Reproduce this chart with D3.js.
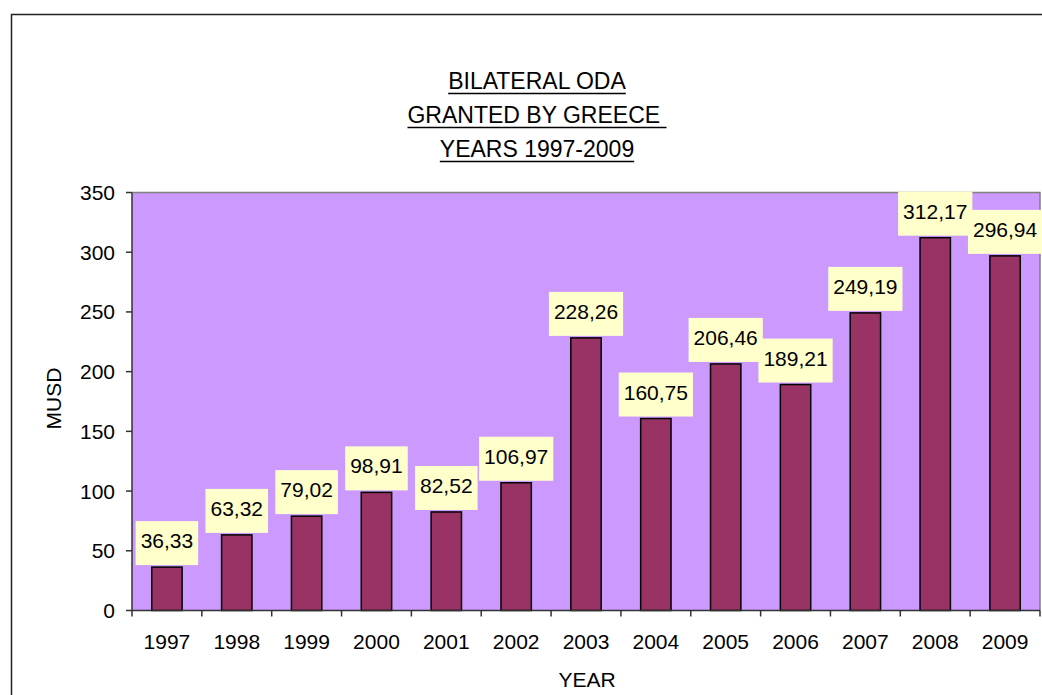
<!DOCTYPE html>
<html>
<head>
<meta charset="utf-8">
<script src="https://cdn.jsdelivr.net/npm/d3@7"></script>
<style>
  html, body { margin: 0; padding: 0; background: #fff; }
  svg { display: block; font-family: "Liberation Sans", Arial, Helvetica, sans-serif; }
</style>
</head>
<body>
<svg id="chart" width="1042" height="695"></svg>
<script>
// data
var years  = ["1997", "1998", "1999", "2000", "2001", "2002", "2003", "2004", "2005", "2006", "2007", "2008", "2009"];
var oda    = [36.33, 63.32, 79.02, 98.91, 82.52, 106.97, 228.26, 160.75, 206.46, 189.21, 249.19, 312.17, 296.94];
var yTicks = [0, 50, 100, 150, 200, 250, 300, 350];
var titleLines = ["BILATERAL ODA", "GRANTED BY GREECE ", "YEARS 1997-2009"];

var svg = d3.select("#chart");

// plot area ("top" is taken by window.top, so prefix them)
var plotLeft = 132, plotRight = 1040, plotTop = 192.5, plotBottom = 610.5;

var x = d3.scaleBand()
  .domain(years)
  .range([plotLeft, plotRight])
  .paddingInner(1.3 / 2.3)
  .paddingOuter(1.3 / 4.6);

var cat = d3.scaleLinear().domain([0, years.length]).range([plotLeft, plotRight]);

var y = d3.scaleLinear().domain([0, 350]).range([plotBottom, plotTop]);

var fmt = d3.formatLocale({ decimal: ",", thousands: ".", grouping: [3], currency: ["", ""] }).format(".2f");

// outer frame
svg.append("path")
  .attr("d", "M11.5,700 L11.5,14.5 L1050,14.5")
  .attr("fill", "none")
  .attr("stroke", "#222")
  .attr("stroke-width", 1.5);

// title
var title = svg.append("g");
titleLines.forEach(function (t, i) {
  var base = 88.5 + i * 34;
  var txt = title.append("text")
    .attr("x", 537)
    .attr("y", base)
    .attr("text-anchor", "middle")
    .attr("font-size", 23)
    .attr("fill", "#000")
    .style("white-space", "pre")
    .text(t);
  var w = txt.node().getComputedTextLength();
  title.append("line")
    .attr("x1", 537 - w / 2).attr("x2", 537 + w / 2)
    .attr("y1", base + 5).attr("y2", base + 5)
    .attr("stroke", "#000")
    .attr("stroke-width", 1.6);
});

// plot background
svg.append("rect")
  .attr("x", plotLeft).attr("y", plotTop)
  .attr("width", plotRight - plotLeft).attr("height", plotBottom - plotTop)
  .attr("fill", "#CC99FF");

// grey border top and right
svg.append("path")
  .attr("d", "M" + plotLeft + "," + plotTop + " L" + plotRight + "," + plotTop + " L" + plotRight + "," + plotBottom)
  .attr("fill", "none")
  .attr("stroke", "#808080")
  .attr("stroke-width", 1.5);

// bars
svg.append("g").selectAll("rect")
  .data(oda)
  .join("rect")
  .attr("x", function (d, i) { return x(years[i]); })
  .attr("y", function (d) { return y(d); })
  .attr("width", x.bandwidth())
  .attr("height", function (d) { return y(0) - y(d); })
  .attr("fill", "#993366")
  .attr("stroke", "#000")
  .attr("stroke-width", 1.5);

// y axis
var yAxis = svg.append("g");
yAxis.append("line")
  .attr("x1", plotLeft).attr("x2", plotLeft)
  .attr("y1", plotTop).attr("y2", plotBottom)
  .attr("stroke", "#333").attr("stroke-width", 1.5);
yAxis.selectAll("line.tick")
  .data(yTicks)
  .join("line")
  .attr("class", "tick")
  .attr("x1", plotLeft - 6).attr("x2", plotLeft)
  .attr("y1", function (d) { return y(d); })
  .attr("y2", function (d) { return y(d); })
  .attr("stroke", "#333").attr("stroke-width", 1.5);
yAxis.selectAll("text")
  .data(yTicks)
  .join("text")
  .attr("x", 115)
  .attr("y", function (d) { return y(d) + 7.5; })
  .attr("text-anchor", "end")
  .attr("font-size", 21)
  .text(function (d) { return d; });

// x axis
var xAxis = svg.append("g");
xAxis.append("line")
  .attr("x1", plotLeft).attr("x2", plotRight)
  .attr("y1", plotBottom).attr("y2", plotBottom)
  .attr("stroke", "#333").attr("stroke-width", 1.5);
xAxis.selectAll("line.tick")
  .data(d3.range(years.length + 1))
  .join("line")
  .attr("class", "tick")
  .attr("x1", function (d) { return cat(d); })
  .attr("x2", function (d) { return cat(d); })
  .attr("y1", plotBottom).attr("y2", plotBottom + 6)
  .attr("stroke", "#333").attr("stroke-width", 1.5);
xAxis.selectAll("text")
  .data(years)
  .join("text")
  .attr("x", function (d) { return x(d) + x.bandwidth() / 2; })
  .attr("y", 649)
  .attr("text-anchor", "middle")
  .attr("font-size", 21)
  .text(function (d) { return d; });

// axis titles
svg.append("text")
  .attr("transform", "translate(61,398.5) rotate(-90)")
  .attr("text-anchor", "middle")
  .attr("font-size", 21)
  .text("MUSD");
svg.append("text")
  .attr("x", 587)
  .attr("y", 687)
  .attr("text-anchor", "middle")
  .attr("font-size", 21)
  .text("YEAR");

// data labels
var labels = svg.append("g");
oda.forEach(function (d, i) {
  var cx = x(years[i]) + x.bandwidth() / 2;
  var boxBottom = y(d) - 2;
  var g = labels.append("g");
  var box = g.append("rect").attr("fill", "#FFFFCC");
  var t = g.append("text")
    .attr("x", cx)
    .attr("y", boxBottom - 17)
    .attr("text-anchor", "middle")
    .attr("font-size", 21)
    .text(fmt(d));
  var w = t.node().getComputedTextLength() + 10;
  box.attr("x", cx - w / 2)
    .attr("y", boxBottom - 44)
    .attr("width", w)
    .attr("height", 44);
});
</script>
</body>
</html>
